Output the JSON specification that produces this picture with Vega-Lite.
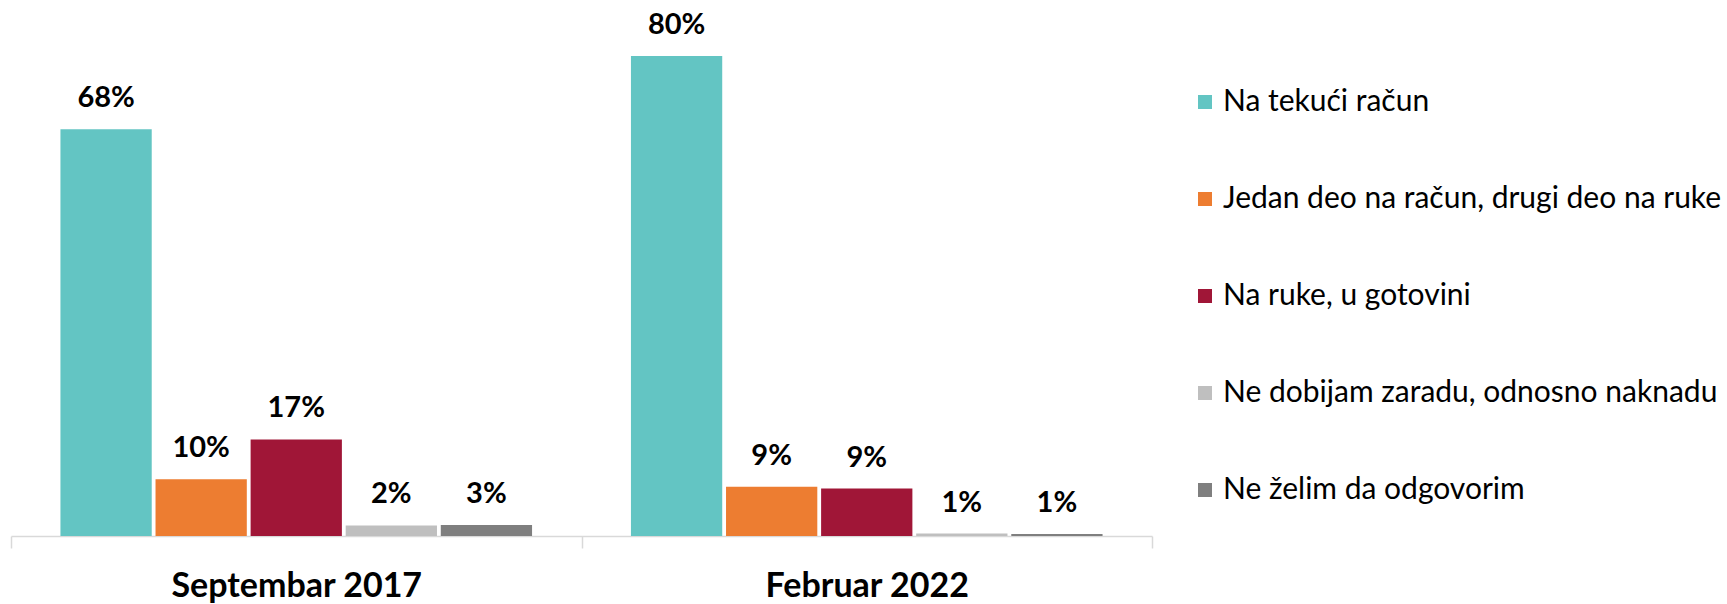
{
  "$schema": "https://vega.github.io/schema/vega-lite/v6.json",
  "autosize": {"type": "none"},
  "width": 1141,
  "height": 536,
  "padding": {"left": 11, "top": 0, "right": 575, "bottom": 68},
  "background": "white",
  "config": {"view": {"stroke": null}, "font": "Lato"},
  "data": {
    "values": [
      {"period": "Septembar 2017", "answer": "Na tekući račun", "value": 67.8, "label": "68%"},
      {"period": "Septembar 2017", "answer": "Jedan deo na račun, drugi deo na ruke", "value": 9.45, "label": "10%"},
      {"period": "Septembar 2017", "answer": "Na ruke, u gotovini", "value": 16.1, "label": "17%"},
      {"period": "Septembar 2017", "answer": "Ne  dobijam zaradu, odnosno naknadu", "value": 1.75, "label": "2%"},
      {"period": "Septembar 2017", "answer": "Ne želim da odgovorim", "value": 1.85, "label": "3%"},
      {"period": "Februar 2022", "answer": "Na tekući račun", "value": 80.0, "label": "80%"},
      {"period": "Februar 2022", "answer": "Jedan deo na račun, drugi deo na ruke", "value": 8.2, "label": "9%"},
      {"period": "Februar 2022", "answer": "Na ruke, u gotovini", "value": 7.9, "label": "9%"},
      {"period": "Februar 2022", "answer": "Ne  dobijam zaradu, odnosno naknadu", "value": 0.4, "label": "1%"},
      {"period": "Februar 2022", "answer": "Ne želim da odgovorim", "value": 0.35, "label": "1%"}
    ]
  },
  "encoding": {
    "x": {
      "field": "period", "type": "nominal", "sort": ["Septembar 2017", "Februar 2022"],
      "scale": {"paddingInner": 0, "paddingOuter": 0},
      "axis": {
        "title": null, "labelAngle": 0, "labelFont": "Lato", "labelFontWeight": "bold",
        "labelFontSize": 34, "labelColor": "#000000", "labelBaseline": "top", "labelPadding": 21,
        "labelLimit": 0,
        "domainColor": "#d9d9d9", "domainWidth": 1.5, "tickColor": "#d9d9d9", "tickWidth": 1.5,
        "tickSize": 12, "tickBand": "extent", "grid": false
      }
    },
    "xOffset": {
      "field": "answer", "type": "nominal",
      "sort": ["Na tekući račun", "Jedan deo na račun, drugi deo na ruke", "Na ruke, u gotovini", "Ne  dobijam zaradu, odnosno naknadu", "Ne želim da odgovorim"],
      "scale": {"paddingInner": 0.04, "paddingOuter": 0.52}
    },
    "y": {
      "field": "value", "type": "quantitative",
      "scale": {"domain": [0, 89.33], "nice": false, "zero": true},
      "axis": null
    }
  },
  "layer": [
    {
      "mark": {"type": "bar"},
      "encoding": {
        "color": {
          "field": "answer", "type": "nominal",
          "sort": ["Na tekući račun", "Jedan deo na račun, drugi deo na ruke", "Na ruke, u gotovini", "Ne  dobijam zaradu, odnosno naknadu", "Ne želim da odgovorim"],
          "scale": {
            "domain": ["Na tekući račun", "Jedan deo na račun, drugi deo na ruke", "Na ruke, u gotovini", "Ne  dobijam zaradu, odnosno naknadu", "Ne želim da odgovorim"],
            "range": ["#63C5C3", "#ED7D31", "#A01637", "#BFBFBF", "#7F7F7F"]
          },
          "legend": {
            "title": null, "orient": "none", "legendX": 1179, "legendY": 87,
            "symbolType": "square", "symbolSize": 196, "symbolStrokeWidth": 0,
            "labelFont": "Lato", "labelFontSize": 30, "labelColor": "#000000",
            "labelOffset": 3, "rowPadding": 67, "labelLimit": 0, "padding": 0
          }
        }
      }
    },
    {
      "mark": {"type": "text", "baseline": "alphabetic", "dy": -22, "font": "Lato", "fontWeight": "bold", "fontSize": 29, "color": "#000000"},
      "encoding": {"text": {"field": "label"}}
    }
  ]
}
